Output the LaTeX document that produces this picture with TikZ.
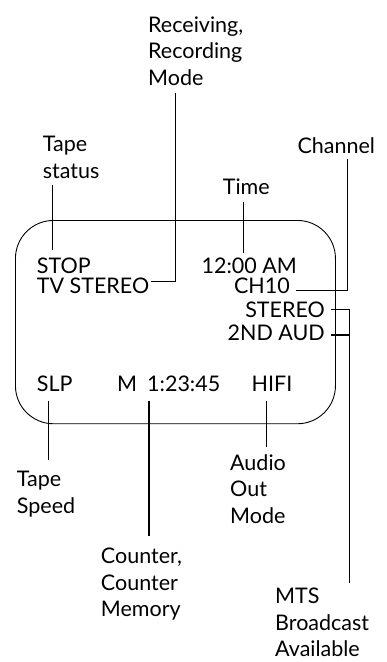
\documentclass[tikz,border=0pt]{standalone}
\usepackage{fontspec}
\setmainfont{Lato}
\usetikzlibrary{calc}
\begin{document}
\begin{tikzpicture}[x=1pt,y=-1pt,
  lbl/.style={inner sep=0pt,anchor=base west,align=left,font=\fontsize{21.5}{26.5}\selectfont},
  disp/.style={inner sep=0pt,font=\fontsize{21.5}{26.5}\selectfont},
  conn/.style={line width=1.5pt},
  screen/.style={draw,line width=0.9pt,rounded corners=38pt}]
\useasboundingbox (0,0) rectangle (387,662);
% screen
\node[screen,inner sep=0pt,anchor=north west,minimum width=320pt,minimum height=203.3pt] (scr) at (15,220) {};
% display texts
\node[disp,anchor=base west] (stop) at (36.7,273.3) {STOP};
\node[disp,anchor=base west] (tvst) at (36.7,293.3) {TV STEREO};
\node[disp,anchor=base] (clock) at (249.3,273.3) {12:00 AM};
\node[disp,anchor=base east] (ch) at (290,293.3) {CH10};
\node[disp,anchor=base east] (st) at (325,317.3) {STEREO};
\node[disp,anchor=base east] (sap) at (325,340) {2ND AUD};
\node[disp,anchor=base west] (slp) at (36.7,391.7) {SLP};
\node[disp,anchor=base west] (mm) at (117,391.7) {M};
\node[disp,anchor=base west] (cnt) at (147,391.7) {1:23:45};
\node[disp,anchor=base] (hifi) at (272,391.7) {HIFI};
% labels (base = last line)
\node[lbl] (recv) at (148,85) {Receiving,\\Recording\\Mode};
\node[lbl] (tstat) at (42.7,178) {Tape\\status};
\node[lbl] (time) at (222.7,194) {Time};
\node[lbl] (chan) at (297.3,153) {Channel};
\node[lbl] (tspeed) at (16.7,513.3) {Tape\\Speed};
\node[lbl] (aout) at (230,523.3) {Audio\\Out\\Mode};
\node[lbl] (cmem) at (100.7,616.7) {Counter,\\Counter\\Memory};
\node[lbl] (mts) at (275,656.7) {MTS\\Broadcast\\Available};
% connectors
\draw[conn] (52.3,185) -- (52.3,250);
\draw[conn] (175.7,92.7) -- (175.7,281.7) -- (150.7,281.7);
\draw[conn] (243.3,201.7) -- (243.3,253);
\draw[conn] (347.7,159) -- (347.7,290.7) -- (296,290.7);
\draw[conn] (331,309.3) -- (349.3,309.3);
\draw[conn] (331,335) -- (349.3,335);
\draw[conn] (349.3,309.3) -- (349.3,583.3);
\draw[conn] (48.3,400.7) -- (48.3,460);
\draw[conn] (149,400.7) -- (149,536);
\draw[conn] (266.7,400.7) -- (266.7,447.3);
\end{tikzpicture}
\end{document}
